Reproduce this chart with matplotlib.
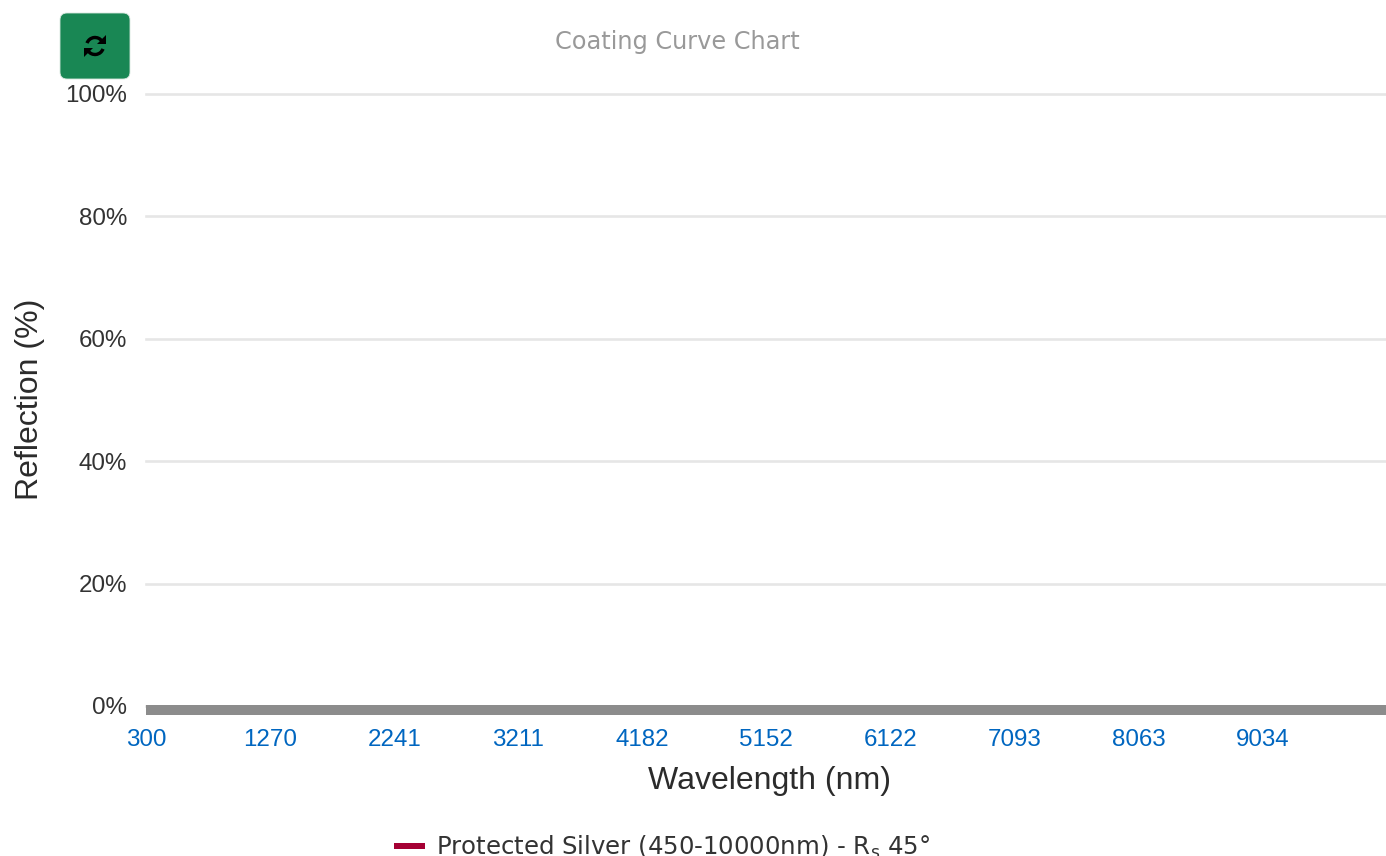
import numpy as np
import matplotlib
matplotlib.use("Agg")
import matplotlib.pyplot as plt
from matplotlib.patches import FancyBboxPatch, Arc, Polygon

W, H = 1386, 856
PT = 0.72  # one pixel in points at dpi 100

#chart data, the series has no visible points in the reference
x_ticks = [300, 1270, 2241, 3211, 4182, 5152, 6122, 7093, 8063, 9034]
y_ticks = [0, 20, 40, 60, 80, 100]
y_labels = ["0%", "20%", "40%", "60%", "80%", "100%"]
wavelength = []
reflection = []
series_name = r"Protected Silver (450-10000nm) - R$_{\mathrm{s}}$ 45°"

plt.rcParams["font.family"] = ["Liberation Sans", "DejaVu Sans"]
plt.rcParams["mathtext.default"] = "regular"

fig = plt.figure(figsize=(W / 100, H / 100), dpi=100, facecolor="white")

#axes box in pixels: left 146, right 1386, top 94, bottom 706
ax = fig.add_axes([146 / W, 1 - 706 / H, 1240 / W, 612 / H])
ax.set_xlim(300, 10000)
ax.set_ylim(0, 100)

line, = ax.plot(wavelength, reflection, color="#a50034", lw=6 * PT, label=series_name,
                solid_capstyle="butt")

ax.set_xticks(x_ticks)
ax.set_yticks(y_ticks)
ax.set_yticklabels(y_labels)
ax.grid(axis="y", color="#e6e6e6", lw=2.6 * PT, clip_on=False)
ax.set_axisbelow(True)
ax.tick_params(axis="x", length=0, pad=14, labelsize=17.4, labelcolor="#0066c0")
ax.tick_params(axis="y", length=0, pad=19 * PT, labelsize=17.4, labelcolor="#333333")

for side in ["top", "right", "left"]:
    ax.spines[side].set_visible(False)
ax.spines["bottom"].set_position(("outward", 4 * PT))
ax.spines["bottom"].set_linewidth(10 * PT)
ax.spines["bottom"].set_color("#8c8c8c")
ax.spines["bottom"].set_capstyle("butt")

ax.set_xlabel("Wavelength (nm)", fontsize=23, color="#2b2b2b")
ax.xaxis.set_label_coords((769 - 146) / 1240, -(781 - 706) / 612, transform=ax.transAxes)
ax.xaxis.label.set_verticalalignment("center")
ax.set_ylabel("Reflection (%)", fontsize=23, color="#2b2b2b")
ax.yaxis.set_label_coords((30 - 146) / 1240, (706 - 399) / 612, transform=ax.transAxes)
ax.yaxis.label.set_verticalalignment("center")

fig.text(677 / W, 1 - 42 / H, "Coating Curve Chart", ha="center", va="center",
         fontsize=17.3, color="#999999", family="DejaVu Sans")

fig.legend(handles=[line], loc="center left", bbox_to_anchor=(394 / W, 1 - 847 / H),
           bbox_transform=fig.transFigure, frameon=False, borderpad=0, borderaxespad=0,
           handlelength=31 * PT / 17.6, handletextpad=11 * PT / 17.6,
           prop={"size": 17.6, "family": "DejaVu Sans"}, labelcolor="#333333")

#overlay in pixel coordinates for the refresh button
over = fig.add_axes([0, 0, 1, 1], zorder=5)
over.set_xlim(0, W)
over.set_ylim(H, 0)
over.axis("off")
over.patch.set_alpha(0)
over.add_patch(FancyBboxPatch((64, 17), 62, 58, boxstyle="round,pad=4,rounding_size=7",
                              fc="#198754", ec="#d8e8df", lw=0.6))
c = (95, 46)
over.add_patch(Arc(c, 17, 17, theta1=200, theta2=325, color="black", lw=2.6 * PT * 1.3))
over.add_patch(Arc(c, 17, 17, theta1=20, theta2=145, color="black", lw=2.6 * PT * 1.3))
over.add_patch(Polygon([(106, 35), (106, 44), (97, 44)], fc="black", ec="none"))
over.add_patch(Polygon([(84, 57), (84, 48), (93, 48)], fc="black", ec="none"))

fig.savefig("out.png", dpi=100)
